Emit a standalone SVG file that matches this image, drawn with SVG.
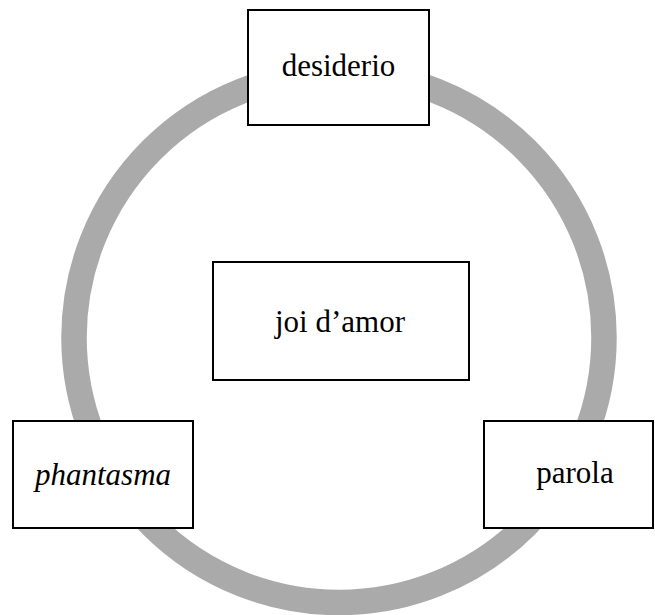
<svg xmlns="http://www.w3.org/2000/svg" width="655" height="615" viewBox="0 0 655 615">
<style>
.box{fill:#fff;stroke:#000;stroke-width:2}
.lbl{font-family:"Liberation Serif","Times New Roman",serif;font-size:31px;fill:#000;text-anchor:middle}
.ring{fill:none;stroke:#aaaaaa;stroke-width:25.5}
</style>
<rect width="655" height="615" fill="#fff"/>
<g id="connectors">
<circle class="ring" cx="339" cy="337.5" r="265"/>
</g>
<g id="desiderio">
<rect class="box" x="248" y="10" width="181" height="115"/>
<text class="lbl" x="338.5" y="76">desiderio</text>
</g>
<g id="joi">
<rect class="box" x="213" y="262" width="256" height="118"/>
<text class="lbl" x="340" y="332">joi d’amor</text>
</g>
<g id="phantasma">
<rect class="box" x="13" y="421" width="180" height="107"/>
<text class="lbl" x="103" y="485" font-style="italic">phantasma</text>
</g>
<g id="parola">
<rect class="box" x="484" y="421" width="169" height="107"/>
<text class="lbl" x="575" y="483">parola</text>
</g>
</svg>
